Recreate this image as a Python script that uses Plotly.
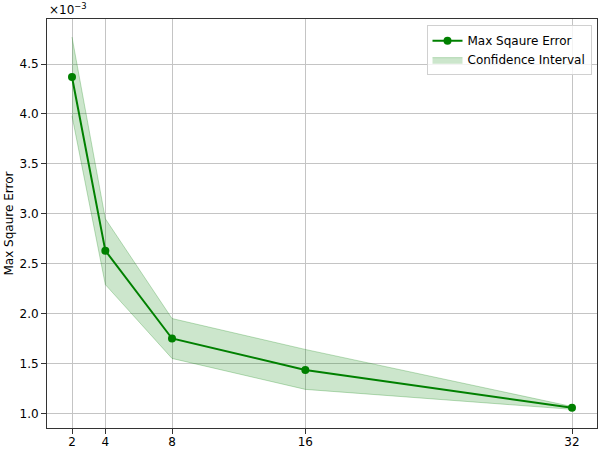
import plotly.graph_objects as go

# Window sizes on the x axis
window_sizes = [2, 4, 8, 16, 32]

# Max square error and its confidence band
max_sq_error = [4.37e-3, 2.63e-3, 1.75e-3, 1.435e-3, 1.055e-3]
ci_upper = [4.77e-3, 2.95e-3, 1.95e-3, 1.64e-3, 1.068e-3]
ci_lower = [3.98e-3, 2.29e-3, 1.55e-3, 1.24e-3, 1.040e-3]

y_tick_vals = [1.0e-3, 1.5e-3, 2.0e-3, 2.5e-3, 3.0e-3, 3.5e-3, 4.0e-3, 4.5e-3]
y_tick_text = ["1.0", "1.5", "2.0", "2.5", "3.0", "3.5", "4.0", "4.5"]

green = "#008000"
band_fill = "rgba(0,128,0,0.2)"
grid_col = "#c4c4c4"
font_family = "DejaVu Sans"
font_size = 12

fig = go.Figure()

# confidence band as one closed polygon: upper edge out, lower edge back
fig.add_trace(go.Scatter(
    x=window_sizes + window_sizes[::-1],
    y=ci_upper + ci_lower[::-1],
    fill="toself",
    fillcolor=band_fill,
    line=dict(color="rgba(0,128,0,0.25)", width=1),
    mode="lines",
    name="Confidence Interval",
    legendrank=2,
    hoverinfo="skip",
))

fig.add_trace(go.Scatter(
    x=window_sizes,
    y=max_sq_error,
    mode="lines+markers",
    line=dict(color=green, width=2),
    marker=dict(color=green, size=8),
    name="Max Sqaure Error",
    legendrank=1,
))

axis_common = dict(
    automargin=False,
    showline=True,
    linecolor="#333333",
    linewidth=1,
    mirror=True,
    showgrid=True,
    gridcolor=grid_col,
    gridwidth=1,
    ticks="outside",
    ticklen=5,
    tickcolor="#333333",
    tickfont=dict(family=font_family, size=font_size, color="black"),
    zeroline=False,
)

fig.update_layout(
    template="none",
    width=598,
    height=449,
    margin=dict(l=47, r=1, t=19, b=21, autoexpand=False),
    paper_bgcolor="white",
    plot_bgcolor="white",
    font=dict(family=font_family, size=font_size, color="black"),
    xaxis=dict(
        range=[0.5, 33.5],
        tickvals=window_sizes,
        ticktext=[str(w) for w in window_sizes],
        ticklabelstandoff=-2,
        **axis_common,
    ),
    yaxis=dict(
        range=[0.853e-3, 4.951e-3],
        tickvals=y_tick_vals,
        ticktext=y_tick_text,
        **axis_common,
    ),
    legend=dict(
        x=0.99,
        y=0.985,
        xanchor="right",
        yanchor="top",
        bgcolor="rgba(255,255,255,0.8)",
        bordercolor="#d0d0d0",
        borderwidth=1,
        font=dict(family=font_family, size=font_size, color="black"),
        tracegroupgap=0,
        itemwidth=30,
    ),
    showlegend=True,
)

# y axis title and the offset label, placed like matplotlib does
fig.add_annotation(
    text="Max Sqaure Error",
    xref="paper", yref="paper",
    x=0, y=0.5,
    xanchor="center", yanchor="middle",
    xshift=-39,
    textangle=-90,
    showarrow=False,
    font=dict(family=font_family, size=font_size, color="black"),
)
fig.add_annotation(
    text="×10<sup>−3</sup>",
    xref="paper", yref="paper",
    x=0, y=1,
    xanchor="left", yanchor="bottom",
    yshift=0,
    showarrow=False,
    font=dict(family=font_family, size=font_size, color="black"),
)

# drop the page's default body margin so the figure sits at the window corner
fig.write_html(
    "out.html",
    config={"displayModeBar": False},
    post_script="document.body.style.margin='0';",
)
